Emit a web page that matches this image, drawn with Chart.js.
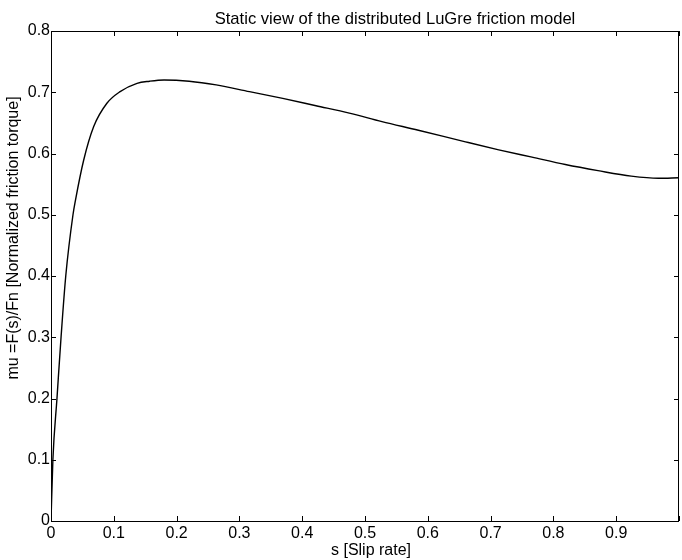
<!DOCTYPE html>
<html>
<head>
<meta charset="utf-8">
<script src="https://cdn.jsdelivr.net/npm/chart.js@4.4.0/dist/chart.umd.min.js"></script>
<style>
  html, body { margin: 0; padding: 0; background: #ffffff; }
  #wrap { width: 682px; height: 560px; position: relative; }
</style>
</head>
<body>
<div id="wrap"><canvas id="c" width="682" height="560"></canvas></div>
<script>
// ---- data ----
const slipRate = [0, 0.003, 0.0095, 0.016, 0.0235, 0.035, 0.039, 0.052, 0.068, 0.089, 0.11, 0.137, 0.157, 0.18, 0.22, 0.263, 0.316, 0.369, 0.422, 0.475, 0.527, 0.585, 0.66, 0.713, 0.766, 0.819, 0.871, 0.924, 0.967, 1.0];
const frictionMu = [0, 0.1, 0.2, 0.3, 0.4, 0.5, 0.524, 0.589, 0.644, 0.682, 0.701, 0.7146, 0.718, 0.72, 0.718, 0.712, 0.701, 0.690, 0.678, 0.666, 0.652, 0.638, 0.619, 0.606, 0.594, 0.582, 0.572, 0.563, 0.5595, 0.5605];
const xTickValues = [0, 0.1, 0.2, 0.3, 0.4, 0.5, 0.6, 0.7, 0.8, 0.9, 1];
const yTickValues = [0, 0.1, 0.2, 0.3, 0.4, 0.5, 0.6, 0.7, 0.8];
const chartTitle = 'Static view of the distributed LuGre friction model';
const xTitle = 's [Slip rate]';
const yTitle = 'mu =F(s)/Fn [Normalized friction torque]';

const points = slipRate.map((s, i) => ({ x: s, y: frictionMu[i] }));
const FONT = 'Liberation Sans, Arial, Helvetica, sans-serif';
const FS = 16;

function fmt(v) {
  const r = Math.round(v * 10) / 10;
  if (r === 0) return '0';
  if (r >= 1) return '';
  return r.toFixed(1);
}

const framePlugin = {
  id: 'matlabFrame',
  afterDraw(chart) {
    const ctx = chart.ctx;
    const a = chart.chartArea;
    const xs = chart.scales.x, ys = chart.scales.y;
    ctx.save();
    ctx.strokeStyle = '#000';
    ctx.lineWidth = 1;
    ctx.beginPath();
    ctx.rect(Math.round(a.left) + 0.5, Math.round(a.top) + 0.5, Math.round(a.right - a.left) - 1, Math.round(a.bottom - a.top));
    ctx.stroke();
    const L = 5;
    ctx.beginPath();
    xTickValues.forEach(v => {
      const px = Math.round(xs.getPixelForValue(v)) + 0.5;
      ctx.moveTo(px, a.bottom); ctx.lineTo(px, a.bottom - L);
      ctx.moveTo(px, a.top); ctx.lineTo(px, a.top + L);
    });
    yTickValues.forEach(v => {
      const py = Math.round(ys.getPixelForValue(v)) + 0.5;
      ctx.moveTo(a.left, py); ctx.lineTo(a.left + L, py);
      ctx.moveTo(a.right, py); ctx.lineTo(a.right - L, py);
    });
    ctx.stroke();
    // texts
    ctx.fillStyle = '#000';
    ctx.textAlign = 'center';
    ctx.textBaseline = 'middle';
    ctx.font = '16.6px ' + FONT;
    ctx.fillText(chartTitle, 395, 19);
    ctx.font = FS + 'px ' + FONT;
    ctx.fillText(xTitle, 371, 551);
    ctx.translate(14, 238);
    ctx.rotate(-Math.PI / 2);
    ctx.fillText(yTitle, 0, 0);
    ctx.restore();
  }
};

new Chart(document.getElementById('c'), {
  type: 'scatter',
  data: {
    datasets: [{
      data: points,
      showLine: true,
      borderColor: '#000',
      borderWidth: 1.4,
      pointRadius: 0,
      fill: false,
      cubicInterpolationMode: 'monotone'
    }]
  },
  options: {
    responsive: false,
    animation: false,
    layout: { padding: { top: 31, right: 1, left: 0, bottom: 0 } },
    plugins: { legend: { display: false }, tooltip: { enabled: false } },
    scales: {
      x: {
        type: 'linear', min: 0, max: 1,
        afterBuildTicks: s => { s.ticks = xTickValues.map(v => ({ value: v })); },
        ticks: { callback: v => fmt(v), color: '#000', font: { family: FONT, size: FS }, padding: 3, maxRotation: 0, autoSkip: false },
        grid: { display: false, drawTicks: false },
        border: { display: false },
        afterFit: s => { s.height = 39; }
      },
      y: {
        type: 'linear', min: 0, max: 0.8,
        afterBuildTicks: s => { s.ticks = yTickValues.map(v => ({ value: v })); },
        ticks: { callback: v => fmt(v), color: '#000', font: { family: FONT, size: FS }, padding: 1, autoSkip: false },
        grid: { display: false, drawTicks: false },
        border: { display: false },
        afterFit: s => { s.width = 51; }
      }
    }
  },
  plugins: [framePlugin]
});
</script>
</body>
</html>
